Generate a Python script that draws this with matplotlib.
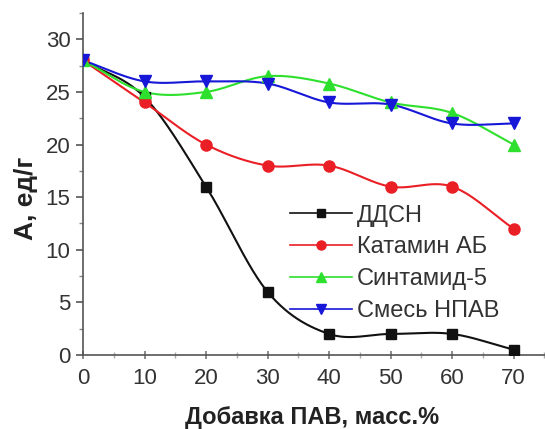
import numpy as np
import matplotlib
matplotlib.use("Agg")
import matplotlib.pyplot as plt
from matplotlib.ticker import MultipleLocator

plt.rcParams['font.family'] = ['Liberation Sans', 'DejaVu Sans']

x = [0, 10, 20, 30, 40, 50, 60, 70]
ddsn = [28, 24.5, 16, 6, 2, 2, 2, 0.5]
katamin = [28, 24, 20, 18, 18, 16, 16, 12]
sintamid = [28, 25, 25, 26.5, 25.8, 24, 23, 20]
smes = [28, 26, 26, 25.8, 24, 23.8, 22, 22]

labels = ['ДДСН', 'Катамин АБ', 'Синтамид-5', 'Смесь НПАВ']
colors = ['#111111', '#ea1f25', '#2ee02e', '#1717d8']
markers = ['s', 'o', '^', 'v']
msizes = [7, 8, 8, 8]


def smooth(xs, ys, n=300):
    # Catmull-Rom cubic for drawing the smooth connecting curve
    xs = np.asarray(xs, float); ys = np.asarray(ys, float)
    k = len(xs); h = np.diff(xs)
    m = np.zeros(k)
    m[1:-1] = (ys[2:] - ys[:-2]) / (xs[2:] - xs[:-2])
    m[0] = (ys[1] - ys[0]) / h[0]; m[-1] = (ys[-1] - ys[-2]) / h[-1]
    xx = np.linspace(xs[0], xs[-1], n)
    idx = np.clip(np.searchsorted(xs, xx) - 1, 0, k - 2)
    t = (xx - xs[idx]) / h[idx]
    h00 = 2 * t**3 - 3 * t**2 + 1; h10 = t**3 - 2 * t**2 + t
    h01 = -2 * t**3 + 3 * t**2; h11 = t**3 - t**2
    yy = h00 * ys[idx] + h10 * h[idx] * m[idx] + h01 * ys[idx + 1] + h11 * h[idx] * m[idx + 1]
    return xx, yy


fig = plt.figure(figsize=(5.45, 4.29), dpi=100)
ax = fig.add_axes([83 / 545, 74 / 429, 462 / 545, 342 / 429])

for ys, lab, col, mk, ms in zip([ddsn, katamin, sintamid, smes], labels, colors, markers, msizes):
    xx, yy = smooth(x, ys)
    ax.plot(xx, yy, color=col, lw=1.5, zorder=2)
    ax.plot(x, ys, linestyle='none', marker=mk, color=col, ms=ms, zorder=3)
    ax.plot([], [], color=col, lw=1.2, marker=mk, ms=ms - 1.5, label=lab)

ax.set_xlim(0, 75.1)
ax.set_ylim(0, 32.5)
ax.xaxis.set_major_locator(MultipleLocator(10))
ax.xaxis.set_minor_locator(MultipleLocator(5))
ax.yaxis.set_major_locator(MultipleLocator(5))
ax.yaxis.set_minor_locator(MultipleLocator(2.5))
for s in ['top', 'right']:
    ax.spines[s].set_visible(False)
for s in ['left', 'bottom']:
    ax.spines[s].set_color('#555555')
    ax.spines[s].set_linewidth(1.2)
ax.tick_params(axis='y', which='major', direction='out', length=5, width=1.2, color='#555555',
               labelsize=16, labelcolor='#333333', pad=4)
ax.tick_params(axis='y', which='minor', direction='out', length=3, width=1, color='#888888')
ax.tick_params(axis='x', which='major', direction='inout', length=6, width=1.2, color='#777777',
               labelsize=16, labelcolor='#333333', pad=6)
ax.tick_params(axis='x', which='minor', direction='inout', length=4, width=1, color='#aaaaaa')

ax.set_xlabel('Добавка ПАВ, масс.%', fontsize=17, fontweight='bold', color='#222222')
ax.xaxis.set_label_coords(0.496, -0.15)
ax.set_ylabel('А, ед/г', fontsize=19, fontweight='bold', color='#222222')
ax.yaxis.set_label_coords(-0.098, 0.459)

ax.legend(loc='upper left', bbox_to_anchor=(0.449, 0.44), frameon=False, fontsize=17,
          handlelength=2.6, handletextpad=0.2, labelspacing=0.42, borderpad=0,
          borderaxespad=0, labelcolor='#333333')

fig.savefig('out.png', dpi=100)
